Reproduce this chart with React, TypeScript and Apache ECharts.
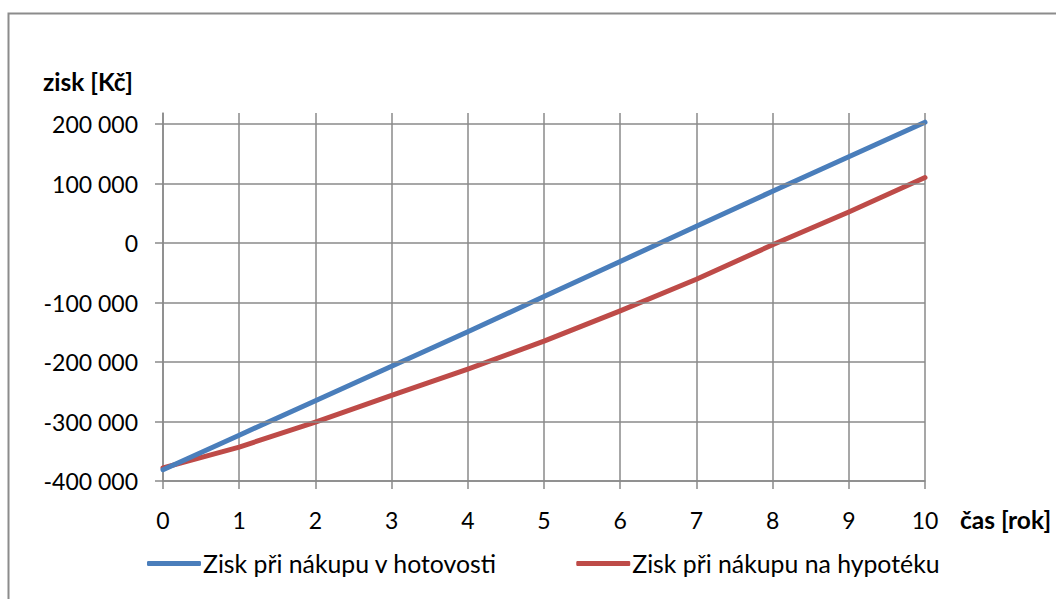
import React, { useEffect, useRef } from "react";
import * as echarts from "echarts";

const years = [0, 1, 2, 3, 4, 5, 6, 7, 8, 9, 10];
const cashProfit = [-381000, -323000, -265000, -207000, -149000, -90000, -31000, 28000, 87000, 145000, 203000];
const mortgageProfit = [-378000, -343000, -301000, -256000, -212000, -165000, -114000, -61000, -3000, 52000, 110000];
const yTicks = [-400000, -300000, -200000, -100000, 0, 100000, 200000];
const xTicks = [0, 1, 2, 3, 4, 5, 6, 7, 8, 9, 10];
const seriesNames = ["Zisk při nákupu v hotovosti", "Zisk při nákupu na hypotéku"];
const seriesColors = ["#4A7EBB", "#BE4B48"];
const xAxisName = "čas [rok]";
const yAxisName = "zisk [Kč]";

const FONT = "Lato, 'Open Sans', sans-serif";
const GRID = "#8A8A8A";

function fmt(v: number): string {
  const s = Math.abs(v).toString().replace(/\B(?=(\d{3})+(?!\d))/g, " ");
  return (v < 0 ? "-" : "") + s;
}

export default function App() {
  const ref = useRef<HTMLDivElement>(null);
  useEffect(() => {
    document.body.style.margin = "0";
    if (!ref.current) return;
    const chart = echarts.init(ref.current, null, { renderer: "svg" });
    chart.setOption({
      animation: false,
      backgroundColor: "#ffffff",
      textStyle: { fontFamily: FONT },
      graphic: [
        {
          type: "rect",
          shape: { x: 8.5, y: 13.5, width: 1200, height: 800 },
          style: { fill: "none", stroke: "#8C8C8C", lineWidth: 2 },
          silent: true,
          z: -1,
        },
      ],
      grid: { left: 163, right: 131, top: 113, bottom: 118 },
      legend: {
        left: 142,
        top: 546,
        icon: "roundRect",
        itemWidth: 54,
        itemHeight: 5,
        itemGap: 79,
        textStyle: { fontFamily: FONT, fontSize: 24.8, color: "#000", padding: [0, 0, 0, -3] },
        data: seriesNames,
      },
      xAxis: {
        type: "value",
        min: 0,
        max: 10,
        interval: 1,
        name: xAxisName,
        nameLocation: "end",
        nameGap: 35,
        nameTextStyle: {
          fontFamily: FONT,
          fontSize: 24.5,
          fontWeight: "bold",
          color: "#000",
          verticalAlign: "top",
          padding: [26, 0, 0, 0],
        },
        axisLine: { show: true, onZero: false, lineStyle: { color: GRID, width: 1.5 } },
        axisTick: { show: true, length: 8, lineStyle: { color: GRID, width: 1.5 }, customValues: xTicks },
        axisLabel: { fontFamily: FONT, fontSize: 23, color: "#000", margin: 27, customValues: xTicks },
        splitLine: { show: true, lineStyle: { color: GRID, width: 1.5 } },
      },
      yAxis: {
        type: "value",
        min: -400000,
        max: 218500,
        name: yAxisName,
        nameLocation: "end",
        nameGap: 19,
        nameTextStyle: {
          fontFamily: FONT,
          fontSize: 24.5,
          fontWeight: "bold",
          color: "#000",
          align: "right",
          padding: [0, 30, 0, 0],
        },
        axisLine: { show: true, lineStyle: { color: GRID, width: 1.5 } },
        axisTick: { show: true, length: 8, lineStyle: { color: GRID, width: 1.5 }, customValues: yTicks },
        axisLabel: {
          fontFamily: FONT,
          fontSize: 23,
          color: "#000",
          margin: 25,
          customValues: yTicks,
          formatter: (v: number) => fmt(v),
        },
        splitLine: { show: false },
      },
      series: [
        {
          name: "grid",
          type: "line",
          data: [],
          silent: true,
          z: 1,
          markLine: {
            silent: true,
            symbol: "none",
            label: { show: false },
            lineStyle: { color: GRID, width: 1.5, type: "solid" },
            emphasis: { disabled: true },
            data: yTicks.map((v) => ({ yAxis: v })),
          },
        },
        {
          name: seriesNames[0],
          type: "line",
          data: years.map((x, i) => [x, cashProfit[i]]),
          showSymbol: false,
          symbol: "none",
          color: seriesColors[0],
          lineStyle: { width: 5, color: seriesColors[0], cap: "round", join: "round" },
          z: 3,
        },
        {
          name: seriesNames[1],
          type: "line",
          data: years.map((x, i) => [x, mortgageProfit[i]]),
          showSymbol: false,
          symbol: "none",
          color: seriesColors[1],
          lineStyle: { width: 5, color: seriesColors[1], cap: "round", join: "round" },
          z: 2,
        },
      ],
    });
    return () => chart.dispose();
  }, []);
  return <div ref={ref} style={{ width: 1056, height: 599 }} />;
}
